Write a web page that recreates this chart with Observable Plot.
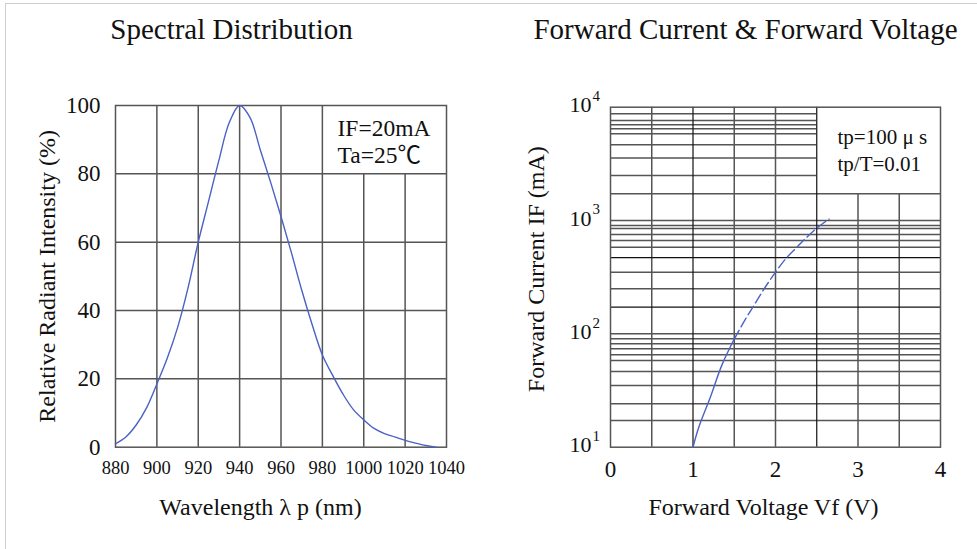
<!DOCTYPE html>
<html><head><meta charset="utf-8">
<script src="https://cdn.jsdelivr.net/npm/d3@7"></script>
<script src="https://cdn.jsdelivr.net/npm/@observablehq/plot@0.6"></script>
<style>
html,body{margin:0;padding:0;background:#fff;}
#wrap{position:relative;width:977px;height:549px;overflow:hidden;background:#fff;}
#border{position:absolute;left:5px;top:3px;width:990px;height:560px;border-top:1px solid #cfcfcf;border-left:1px solid #cfcfcf;}
#left{position:absolute;left:0;top:0;}
#right{position:absolute;left:490px;top:0;}
</style></head><body>
<div id="wrap"><div id="border"></div><div id="left"></div><div id="right"></div></div>
<script>
// ---- Spectral Distribution data ----
const wavelength = [880,885,890,895,900,905,910,915,920,925,930,935,940,945,950,955,960,965,970,975,980,985,990,995,1000,1005,1010,1015,1020,1025,1030,1035];
const intensity  = [1,3,6.5,11.5,18.5,26,35,46.5,60,72,84,95,100,96.5,87,77.5,67.5,57,46,36,27,21,15.5,11,8,5.5,4,3,2,1.2,0.5,0];
const wavelengthTicks = [880,900,920,940,960,980,1000,1020,1040];
const intensityTicks = [0,20,40,60,80,100];

// ---- Forward Current & Forward Voltage data ----
const vfSolid = [1.0,1.07,1.21,1.35,1.5];
const ifSolid = [10,15,27.6,53,90];
const vfDashed = [1.5,1.62,1.74,1.86,2.0,2.12,2.26,2.38,2.5,2.65];
const ifDashed = [90,129,179,248,350,456,582,714,857,1029];
const voltageTicks = [0,1,2,3,4];
const voltageGrid = [0.5,1,1.5,2,2.5,3,3.5];
const voltageGridDark = [1,2.5];
const currentTicks = [10,100,1000,10000];
const currentGrid = [17.2,24.2,35,46.6,58.2,65.4,73.9,81.8,90.5,100,
                     172,250,350,470,582,667,754,852,905,1000,
                     1724,2500,3556,4667,5834,6457,7006,7640,8750];
const currentGridDark = [172,470];

const serif = "'Liberation Serif','Noto Sans CJK SC','Times New Roman',serif";
const gridColor = "#555";
const curveColor = "#4a62c4";

const spectral = wavelength.map((w,i) => ({w, v: intensity[i]}));
const solid = vfSolid.map((v,i) => ({v, c: ifSolid[i]}));
const dashed = vfDashed.map((v,i) => ({v, c: ifDashed[i]}));

const left = Plot.plot({
  width: 490, height: 549,
  marginLeft: 115, marginRight: 44, marginTop: 105, marginBottom: 102.3,
  style: {fontFamily: serif, background: "transparent", color: "#111", overflow: "visible"},
  x: {domain: [880,1040], axis: null},
  y: {domain: [0,100], axis: null},
  marks: [
    Plot.ruleX(wavelengthTicks.filter(d => d > 880 && d < 1040), {x: d => d, y1: 0, y2: d => d > 980 ? 80 : 100, stroke: gridColor, strokeWidth: 1.5}),
    Plot.ruleY(intensityTicks.filter(d => d > 0 && d < 100), {y: d => d, x1: 880, x2: 1040, stroke: gridColor, strokeWidth: 1.5}),
    Plot.frame({stroke: gridColor, strokeWidth: 1.5}),
    Plot.line(spectral, {x: "w", y: "v", stroke: curveColor, strokeWidth: 1.4, curve: "catmull-rom"}),
    Plot.axisX(wavelengthTicks, {tickSize: 0, tickPadding: 14, fontSize: 18.5, tickFormat: "d", label: null}),
    Plot.axisY(intensityTicks, {tickSize: 0, tickPadding: 15, fontSize: 23, tickFormat: "d", label: null}),
    Plot.text(["Spectral Distribution"], {frameAnchor: "top", lineAnchor: "bottom", dx: -49.5, dy: -67, fontSize: 29}),
    Plot.text(["Relative Radiant Intensity (%)"], {frameAnchor: "left", textAnchor: "middle", lineAnchor: "middle", rotate: -90, dx: -68, dy: 0, fontSize: 24}),
    Plot.text(["Wavelength λ p (nm)"], {frameAnchor: "bottom", lineAnchor: "middle", dx: -20.5, dy: 60, fontSize: 24}),
    Plot.text(["IF=20mA"], {frameAnchor: "top-right", textAnchor: "start", lineAnchor: "bottom", dx: -109, dy: 30, fontSize: 23.5}),
    Plot.text(["Ta=25℃"], {frameAnchor: "top-right", textAnchor: "start", lineAnchor: "bottom", dx: -109, dy: 57, fontSize: 23.5})
  ]
});
document.getElementById("left").appendChild(left);

const right = Plot.plot({
  width: 487, height: 549,
  marginLeft: 120, marginRight: 37, marginTop: 106.7, marginBottom: 102.3,
  style: {fontFamily: serif, background: "transparent", color: "#111", overflow: "visible"},
  x: {domain: [0,4], axis: null},
  y: {type: "log", domain: [10,10000], axis: null},
  marks: [
    Plot.ruleX(voltageGrid.filter(d => !voltageGridDark.includes(d)), {x: d => d, y1: 10, y2: d => d > 2.5 ? 1724 : 10000, stroke: gridColor, strokeWidth: 1.5}),
    Plot.ruleY(currentGrid.filter(d => !currentGridDark.includes(d)), {y: d => d, x1: 0, x2: d => d > 1724 ? 2.5 : 4, stroke: gridColor, strokeWidth: 1.5}),
    Plot.ruleX(voltageGridDark, {x: d => d, y1: 10, y2: 10000, stroke: "#111", strokeWidth: 1.2}),
    Plot.ruleY(currentGridDark, {y: d => d, x1: 0, x2: 4, stroke: "#111", strokeWidth: 1.2}),
    Plot.frame({stroke: gridColor, strokeWidth: 1.5}),
    Plot.line(solid, {x: "v", y: "c", stroke: curveColor, strokeWidth: 1.4, curve: "catmull-rom"}),
    Plot.line(dashed, {x: "v", y: "c", stroke: curveColor, strokeWidth: 1.4, curve: "catmull-rom", strokeDasharray: "10,4"}),
    Plot.axisX(voltageTicks, {tickSize: 0, tickPadding: 13, fontSize: 23, tickFormat: "d", label: null}),
    Plot.text(currentTicks, {y: d => d, frameAnchor: "left", text: () => "10", textAnchor: "end", lineAnchor: "middle", dx: -19, dy: -2, fontSize: 22}),
    Plot.text(currentTicks, {y: d => d, frameAnchor: "left", text: d => String(Math.round(Math.log10(d))), textAnchor: "start", lineAnchor: "middle", dx: -18, dy: -11, fontSize: 15}),
    Plot.text(["Forward Current & Forward Voltage"], {frameAnchor: "top", lineAnchor: "bottom", dx: -30, dy: -68.7, fontSize: 29}),
    Plot.text(["Forward Current IF (mA)"], {frameAnchor: "left", textAnchor: "middle", lineAnchor: "middle", rotate: -90, dx: -74, dy: -8, fontSize: 24}),
    Plot.text(["Forward Voltage Vf (V)"], {frameAnchor: "bottom", lineAnchor: "middle", dx: -12, dy: 60, fontSize: 24}),
    Plot.text(["tp=100 μ s"], {frameAnchor: "top-right", textAnchor: "start", lineAnchor: "bottom", dx: -103, dy: 36.3, fontSize: 21}),
    Plot.text(["tp/T=0.01"], {frameAnchor: "top-right", textAnchor: "start", lineAnchor: "bottom", dx: -103, dy: 63.3, fontSize: 21})
  ]
});
document.getElementById("right").appendChild(right);
</script>
</body></html>
